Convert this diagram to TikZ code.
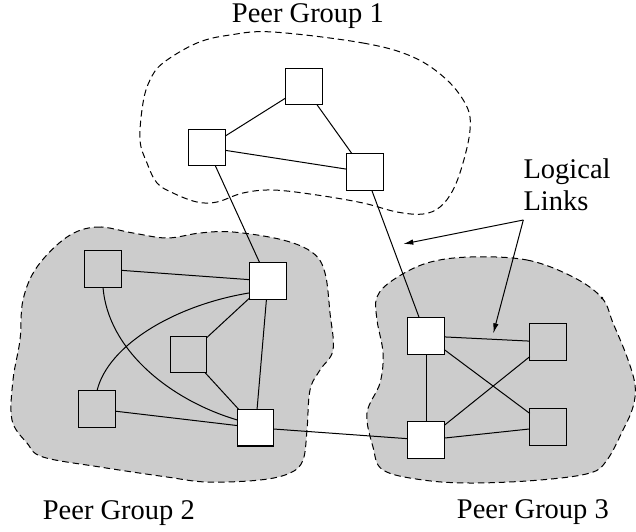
\documentclass[tikz,border=0pt]{standalone}
\usepackage{fontspec}
\setmainfont{Liberation Serif}
\usetikzlibrary{arrows.meta}
\definecolor{groupgray}{gray}{0.8}
\begin{document}
\begin{tikzpicture}[x=1pt,y=-1pt,
  cloud/.style={dash pattern=on 6.5pt off 4pt, line width=1pt},
  grp/.style={cloud, fill=groupgray},
  sw/.style={draw, line width=1.1pt, minimum size=36.5pt, inner sep=0pt, outer sep=0pt},
  wsw/.style={sw, fill=white},
  link/.style={line width=1pt},
  arr/.style={line width=1pt, -{Latex[length=10pt,width=5.5pt]}},
  lbl/.style={font=\fontsize{28.5}{31.7}\selectfont, inner sep=0pt}]
\useasboundingbox (0,0) rectangle (636,531);

% clouds
\draw[cloud] plot[smooth cycle, tension=0.6] coordinates {
  (273,32) (363,43) (413,57) (447,80) (467,107) (470,130) (463,163) (453,190)
  (440,207) (423,214) (397,212) (363,203) (317,195) (273,190) (243,193)
  (217,202) (197,202) (173,193) (157,183) (147,163) (140,140) (143,103)
  (150,80) (163,63) (197,43) (230,35)};
\draw[grp] plot[smooth cycle, tension=0.6] coordinates {
  (67,237) (97,227) (133,233) (167,238) (200,233) (233,232) (283,240)
  (313,253) (325,273) (330,313) (333,350) (320,370) (310,390) (307,430)
  (303,460) (290,473) (260,480) (207,482) (167,477) (100,467) (43,457)
  (27,443) (12,420) (13,380) (20,340) (23,300) (37,267)};
\draw[grp] plot[smooth cycle, tension=0.6] coordinates {
  (470,257) (527,260) (573,277) (602,298) (613,323) (627,357) (635,385)
  (633,407) (623,430) (607,460) (590,473) (540,480) (473,483) (423,480)
  (383,470) (373,447) (367,413) (380,383) (383,353) (377,320) (377,297)
  (393,280) (427,263)};
\fill (602,298) circle (1.4pt);

% switches
\node[sw]  (T)  at (304,86.5) {};
\node[sw]  (TL) at (207,147.5) {};
\node[sw]  (TR) at (365,172) {};
\node[sw]  (A)  at (103,269) {};
\node[wsw] (B)  at (268,281) {};
\node[sw]  (C)  at (188.5,354.5) {};
\node[sw]  (D)  at (97,409) {};
\node[wsw] (E)  at (255.5,427.7) {};
\node[wsw] (F)  at (426,336) {};
\node[sw]  (G)  at (548,342) {};
\node[wsw] (H)  at (426,440) {};
\node[sw]  (I)  at (548,427) {};

% links
\draw[link] (T) -- (TL);
\draw[link] (T) -- (TR);
\draw[link] (TL) -- (TR);
\draw[link] (TL) -- (B);
\draw[link] (TR) -- (F);
\draw[link] (A) -- (B);
\draw[link] (A.south) .. controls (108,350) and (170,400) .. (E.157);
\draw[link] (B.-147) .. controls (175,305) and (108,345) .. (D.north);
\draw[link] (B) -- (C);
\draw[link] (C) -- (E);
\draw[link] (B) -- (E);
\draw[link] (D) -- (E);
\draw[link] (E) -- (H);
\draw[link] (F) -- (G);
\draw[link] (F) -- (H);
\draw[link] (F) -- (I);
\draw[link] (H) -- (G);
\draw[link] (H) -- (I);

% labels
\node[lbl, anchor=base west] (pg1) at (231.7,22) {Peer Group 1};
\node[lbl, anchor=base west] (pg2) at (42.7,519.3) {Peer Group 2};
\node[lbl, anchor=base west] (pg3) at (456.7,518.5) {Peer Group 3};
\node[lbl, anchor=north west, align=left] (ll) at (523.3,158.8) {Logical\\Links};

\coordinate (lo) at (523.3,220);
\coordinate (la1) at (403.3,244);
\coordinate (la2) at (493.3,333.3);
\draw[arr] (lo) -- (la1);
\draw[arr] (lo) -- (la2);
\end{tikzpicture}
\end{document}
